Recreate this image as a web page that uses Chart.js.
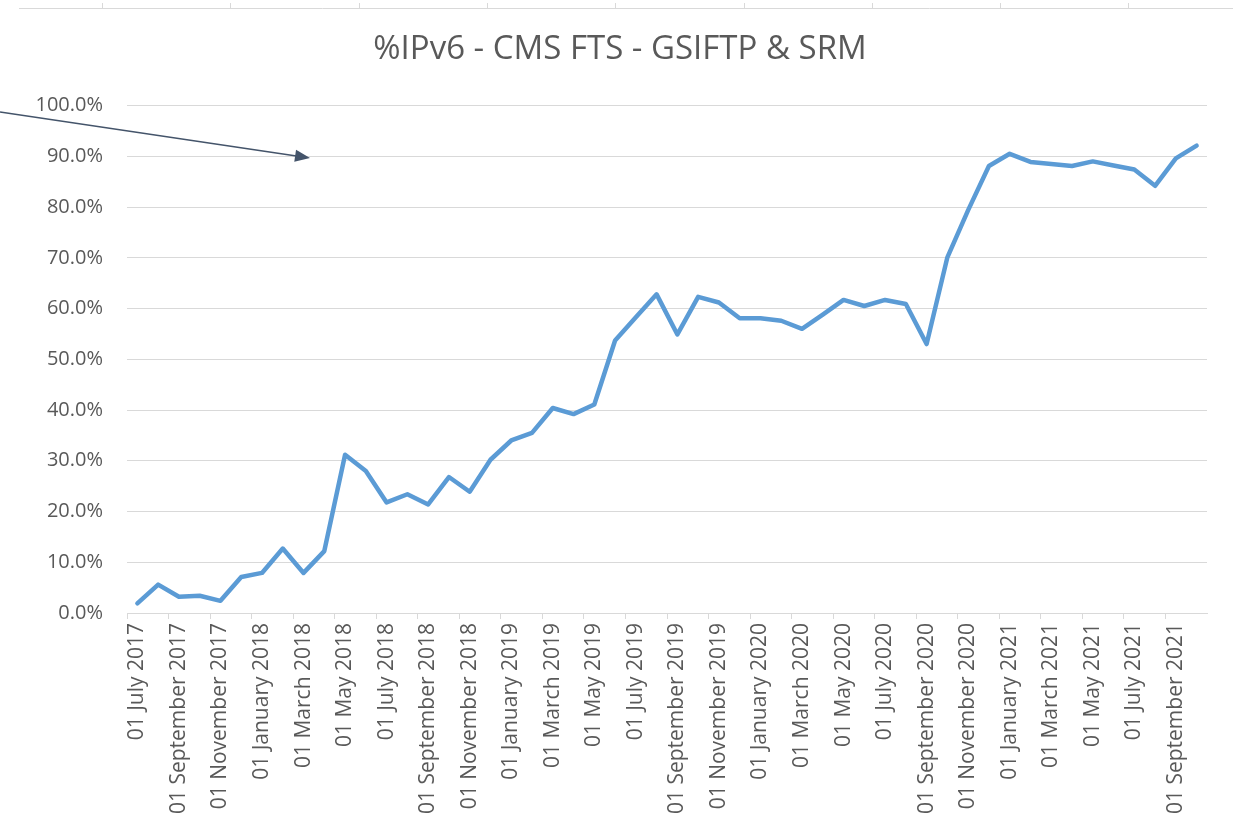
<!DOCTYPE html>
<html>
<head>
<meta charset="utf-8">
<title>%IPv6 - CMS FTS - GSIFTP &amp; SRM</title>
<script src="https://cdn.jsdelivr.net/npm/chart.js@4/dist/chart.umd.min.js"></script>
<style>
    html, body { margin: 0; padding: 0; background: #fff; }
    #wrap { position: relative; width: 1233px; height: 829px; }
</style>
</head>
<body>
<div id="wrap"><canvas id="ipv6-chart"></canvas></div>
<script>
// Months shown on the x axis (one point per month)
var months = [
    '01 July 2017', '01 August 2017', '01 September 2017', '01 October 2017', '01 November 2017', '01 December 2017',
    '01 January 2018', '01 February 2018', '01 March 2018', '01 April 2018', '01 May 2018', '01 June 2018',
    '01 July 2018', '01 August 2018', '01 September 2018', '01 October 2018', '01 November 2018', '01 December 2018',
    '01 January 2019', '01 February 2019', '01 March 2019', '01 April 2019', '01 May 2019', '01 June 2019',
    '01 July 2019', '01 August 2019', '01 September 2019', '01 October 2019', '01 November 2019', '01 December 2019',
    '01 January 2020', '01 February 2020', '01 March 2020', '01 April 2020', '01 May 2020', '01 June 2020',
    '01 July 2020', '01 August 2020', '01 September 2020', '01 October 2020', '01 November 2020', '01 December 2020',
    '01 January 2021', '01 February 2021', '01 March 2021', '01 April 2021', '01 May 2021', '01 June 2021',
    '01 July 2021', '01 August 2021', '01 September 2021', '01 October 2021'
];

// Share of IPv6 transfers, in percent
var ipv6Percent = [
    1.9, 5.6, 3.2, 3.4, 2.4, 7.1,
    7.9, 12.7, 7.9, 12.2, 31.2, 28.0,
    21.8, 23.4, 21.4, 26.8, 23.9, 30.2,
    34.0, 35.5, 40.4, 39.2, 41.1, 53.7,
    58.3, 62.8, 54.9, 62.3, 61.2, 58.1,
    58.1, 57.6, 56.0, 58.8, 61.7, 60.5,
    61.7, 60.9, 53.0, 70.1, 79.4, 88.1,
    90.5, 88.9, 88.5, 88.1, 89.0, 88.2,
    87.4, 84.2, 89.6, 92.1
];

var yTicks = [0, 10, 20, 30, 40, 50, 60, 70, 80, 90, 100];

(function() {
    'use strict';

    var textColor = '#595959';
    var gridColor = '#d9d9d9';

    Chart.defaults.font.family = "'Open Sans', sans-serif";
    Chart.defaults.color = textColor;

    // Leftovers of the slide: cropped axis at the top and the pointer arrow
    var slideDecor = {
        id: 'slideDecor',
        afterDraw: function(chart) {
            var ctx = chart.ctx;
            ctx.save();

            ctx.strokeStyle = gridColor;
            ctx.lineWidth = 1;
            ctx.beginPath();
            ctx.moveTo(19, 8.5);
            ctx.lineTo(1233, 8.5);
            for (var x = 102; x < 1233; x += 128.3) {
                ctx.moveTo(Math.round(x) + 0.5, 3);
                ctx.lineTo(Math.round(x) + 0.5, 8.5);
            }
            ctx.stroke();

            var x0 = 0, y0 = 112, x1 = 310, y1 = 158;
            var ang = Math.atan2(y1 - y0, x1 - x0);
            ctx.strokeStyle = '#44546a';
            ctx.fillStyle = '#44546a';
            ctx.lineWidth = 1.5;
            ctx.beginPath();
            ctx.moveTo(x0, y0);
            ctx.lineTo(x1 - 12 * Math.cos(ang), y1 - 12 * Math.sin(ang));
            ctx.stroke();
            ctx.beginPath();
            ctx.moveTo(x1, y1);
            ctx.lineTo(x1 - 15 * Math.cos(ang) + 6 * Math.sin(ang), y1 - 15 * Math.sin(ang) - 6 * Math.cos(ang));
            ctx.lineTo(x1 - 15 * Math.cos(ang) - 6 * Math.sin(ang), y1 - 15 * Math.sin(ang) + 6 * Math.cos(ang));
            ctx.closePath();
            ctx.fill();

            ctx.restore();
        }
    };

    var canvas = document.getElementById('ipv6-chart');

    new Chart(canvas.getContext('2d'), {
        type: 'line',
        data: {
            labels: months,
            datasets: [{
                label: '%IPv6',
                data: ipv6Percent,
                borderColor: '#5b9bd5',
                backgroundColor: '#5b9bd5',
                borderWidth: 4.5,
                borderJoinStyle: 'round',
                borderCapStyle: 'round',
                pointRadius: 0,
                tension: 0,
                fill: false
            }]
        },
        options: {
            responsive: true,
            maintainAspectRatio: false,
            animation: false,
            layout: {
                padding: { left: 33, right: 26, top: 0, bottom: 0 }
            },
            plugins: {
                legend: { display: false },
                tooltip: { enabled: false },
                title: {
                    display: true,
                    text: '%IPv6 - CMS FTS - GSIFTP & SRM',
                    color: textColor,
                    font: { size: 33, weight: 'normal', lineHeight: 1.2 },
                    padding: { top: 30, bottom: 36 }
                }
            },
            scales: {
                x: {
                    type: 'category',
                    offset: true,
                    afterFit: function(scale) {
                        scale.height = 216;
                    },
                    grid: {
                        offset: true,
                        drawOnChartArea: false,
                        drawTicks: true,
                        tickLength: 6,
                        color: function(c) {
                            return c.index % 2 === 0 ? gridColor : 'rgba(0,0,0,0)';
                        }
                    },
                    border: { display: true, color: gridColor },
                    ticks: {
                        autoSkip: false,
                        minRotation: 90,
                        maxRotation: 90,
                        padding: 4,
                        color: textColor,
                        font: { size: 21 },
                        callback: function(value, index) {
                            return index % 2 === 0 ? this.getLabelForValue(value) : '';
                        }
                    }
                },
                y: {
                    min: 0,
                    max: 100,
                    afterFit: function(scale) {
                        scale.width = 94;
                    },
                    afterBuildTicks: function(scale) {
                        scale.ticks = yTicks.map(function(v) { return { value: v }; });
                    },
                    grid: {
                        color: gridColor,
                        lineWidth: 1,
                        drawTicks: false
                    },
                    border: { display: false },
                    ticks: {
                        padding: 24,
                        color: textColor,
                        font: { size: 20 },
                        callback: function(value) {
                            return value.toFixed(1) + '%';
                        }
                    }
                }
            }
        },
        plugins: [slideDecor]
    });
})();
</script>
</body>
</html>
